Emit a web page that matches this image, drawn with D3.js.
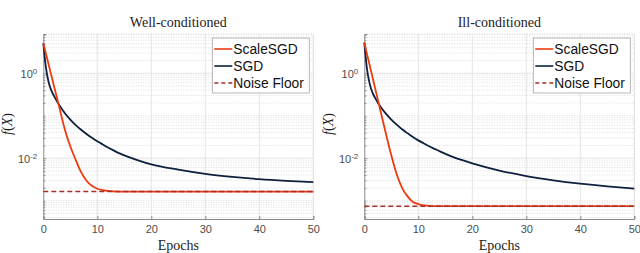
<!DOCTYPE html>
<html>
<head>
<meta charset="utf-8">
<script src="https://cdn.jsdelivr.net/npm/d3@7"></script>
<style>
    body { margin: 0; background: #fff; }
    .tick-label { font-family: "Liberation Sans", Arial, sans-serif; font-size: 11px; fill: #4d4d4d; }
    .title, .xlabel, .ylabel { font-family: "Liberation Serif", "Times New Roman", serif; fill: #222; }
    .legend text { font-family: "Liberation Sans", Arial, sans-serif; font-size: 13.8px; fill: #111; }
</style>
</head>
<body>
<div id="vis"></div>
<script>
    // data
    var epochs = [0, 0.5, 1, 1.5, 2, 3, 4, 5, 6, 7, 8, 9, 10, 11, 12, 13, 14, 16, 18, 20, 25, 30, 35, 40, 45, 50];

    var wellScaleSGD = [5.08, 2.83, 1.58, 0.879, 0.49, 0.151, 0.0468, 0.0191, 0.00912, 0.00468, 0.00295, 0.00224,
        0.00191, 0.00176, 0.0017, 0.00166, 0.00164, 0.001637, 0.001637, 0.001637, 0.001637, 0.001637, 0.001637,
        0.001637, 0.001637, 0.001637];
    var wellSGD = [5.08, 1.318, 0.603, 0.389, 0.288, 0.174, 0.1148, 0.0813, 0.0603, 0.0468, 0.0372, 0.0302,
        0.0251, 0.0211, 0.0178, 0.0153, 0.0132, 0.01047, 0.00851, 0.00716, 0.00537, 0.00427, 0.00363,
        0.0032, 0.00292, 0.00272];
    var wellFloor = 0.001637;

    var illScaleSGD = [5.25, 2.82, 1.53, 0.832, 0.447, 0.129, 0.038, 0.01175, 0.00417, 0.002, 0.00126, 0.000933,
        0.000832, 0.000776, 0.00075, 0.000741, 0.000741, 0.000741, 0.000741, 0.000741, 0.000741, 0.000741, 0.000741,
        0.000741, 0.000741, 0.000741];
    var illSGD = [5.25, 1.259, 0.562, 0.355, 0.263, 0.162, 0.1122, 0.0813, 0.0617, 0.0479, 0.0389, 0.0316,
        0.0263, 0.0224, 0.0191, 0.0166, 0.01445, 0.01122, 0.00912, 0.00759, 0.00513, 0.0038, 0.00302,
        0.00251, 0.00216, 0.00191];
    var illFloor = 0.000741;

    var titles = ["Well-conditioned", "Ill-conditioned"];
    var seriesNames = ["ScaleSGD", "SGD", "Noise Floor"];
    var xTicks = [0, 10, 20, 30, 40, 50];
    var yMajor = [1, 0.01];
    var yMajorExp = ["0", "-2"];
    var xDomain = [0, 50];
    var yDomain = [3.7e-4, 8.4];

    var width = 640,
        height = 253;

    var colors = {
        scale: "#ee3a10",
        sgd: "#0f1f3e",
        floor: "#a8302a"
    };

    var svg = d3.select("#vis").append("svg")
        .attr("width", width)
        .attr("height", height);

    var panels = [
        { left: 43.3, title: titles[0], scale: wellScaleSGD, sgd: wellSGD, floor: wellFloor },
        { left: 364.3, title: titles[1], scale: illScaleSGD, sgd: illSGD, floor: illFloor }
    ];

    // minor y grid values: 2..9 x 10^k and the unlabeled decades
    var yMinor = [];
    for (var k = -4; k <= 1; k++) {
        for (var m = 1; m <= 9; m++) {
            var v = m * Math.pow(10, k);
            if (v >= yDomain[0] && v <= yDomain[1] && yMajor.indexOf(v) < 0) yMinor.push(v);
        }
    }

    panels.forEach(function(p) {
        var x = d3.scaleLinear().domain(xDomain).range([p.left, p.left + 270]);
        var y = d3.scaleLog().domain(yDomain).range([219, 34]);

        var g = svg.append("g");

        // grid
        g.selectAll(".ygrid-minor")
            .data(yMinor)
            .enter().append("line")
            .attr("x1", x(0)).attr("x2", x(50))
            .attr("y1", function(d) { return y(d); })
            .attr("y2", function(d) { return y(d); })
            .attr("stroke", "#d4d4d4")
            .attr("stroke-width", 0.8)
            .attr("stroke-dasharray", "1,1.5");

        g.selectAll(".xgrid")
            .data(xTicks.slice(1))
            .enter().append("line")
            .attr("x1", function(d) { return x(d); })
            .attr("x2", function(d) { return x(d); })
            .attr("y1", y(yDomain[0])).attr("y2", y(yDomain[1]))
            .attr("stroke", "#e4e4e4")
            .attr("stroke-width", 1);

        g.selectAll(".ygrid")
            .data(yMajor)
            .enter().append("line")
            .attr("x1", x(0)).attr("x2", x(50))
            .attr("y1", function(d) { return y(d); })
            .attr("y2", function(d) { return y(d); })
            .attr("stroke", "#e4e4e4")
            .attr("stroke-width", 1);

        // top / right edges as light dotted lines
        g.append("line")
            .attr("x1", x(0)).attr("x2", x(50))
            .attr("y1", y(yDomain[1])).attr("y2", y(yDomain[1]))
            .attr("stroke", "#d4d4d4").attr("stroke-dasharray", "1,1.5");
        g.append("line")
            .attr("x1", x(50)).attr("x2", x(50))
            .attr("y1", y(yDomain[0])).attr("y2", y(yDomain[1]))
            .attr("stroke", "#d4d4d4").attr("stroke-dasharray", "1,1.5");

        // axes
        var xAxis = g.append("g")
            .attr("transform", "translate(0," + y(yDomain[0]) + ")")
            .call(d3.axisBottom(x).tickValues(xTicks).tickSize(-3).tickPadding(6));
        xAxis.select(".domain").attr("stroke", "#8a8a8a");
        xAxis.selectAll(".tick line").attr("stroke", "#8a8a8a");
        xAxis.selectAll(".tick text").attr("class", "tick-label").attr("font-family", null).attr("font-size", null).attr("fill", null);

        var yAxisMinor = g.append("g")
            .attr("transform", "translate(" + x(0) + ",0)")
            .call(d3.axisLeft(y).tickValues(yMinor).tickSize(-2).tickFormat(""));
        yAxisMinor.select(".domain").remove();
        yAxisMinor.selectAll(".tick line").attr("stroke", "#8a8a8a");

        var yAxis = g.append("g")
            .attr("transform", "translate(" + x(0) + ",0)")
            .call(d3.axisLeft(y).tickValues(yMajor).tickSize(-3).tickFormat(""));
        yAxis.select(".domain").attr("stroke", "#8a8a8a");
        yAxis.selectAll(".tick line").attr("stroke", "#8a8a8a");

        yAxis.selectAll(".tick").each(function(d, i) {
            var t = d3.select(this).append("text")
                .attr("class", "tick-label")
                .attr("x", -6)
                .attr("dy", "0.35em")
                .attr("text-anchor", "end");
            t.append("tspan").text("10");
            t.append("tspan").attr("dy", "-0.45em").attr("font-size", "8px").text(yMajorExp[i]);
        });

        // series
        var line = d3.line()
            .x(function(d) { return x(d[0]); })
            .y(function(d) { return y(d[1]); })
            .curve(d3.curveMonotoneX);

        g.append("path")
            .datum(d3.zip(epochs, p.sgd))
            .attr("d", line)
            .attr("fill", "none")
            .attr("stroke", colors.sgd)
            .attr("stroke-width", 1.8);

        g.append("path")
            .datum(d3.zip(epochs, p.scale))
            .attr("d", line)
            .attr("fill", "none")
            .attr("stroke", colors.scale)
            .attr("stroke-width", 1.8);

        g.append("line")
            .attr("x1", x(xDomain[0])).attr("x2", x(xDomain[1]))
            .attr("y1", y(p.floor)).attr("y2", y(p.floor))
            .attr("stroke", colors.floor)
            .attr("stroke-width", 1.6)
            .attr("stroke-dasharray", "5,3");

        // labels
        g.append("text")
            .attr("class", "title")
            .attr("x", x(25))
            .attr("y", 27)
            .attr("text-anchor", "middle")
            .attr("font-size", "14px")
            .text(p.title);

        g.append("text")
            .attr("class", "xlabel")
            .attr("x", x(25))
            .attr("y", 250)
            .attr("text-anchor", "middle")
            .attr("font-size", "14px")
            .text("Epochs");

        var yl = g.append("text")
            .attr("class", "ylabel")
            .attr("transform", "translate(" + (p.left - 31) + ",124) rotate(-90)")
            .attr("text-anchor", "middle")
            .attr("font-size", "14px");
        yl.append("tspan").attr("font-style", "italic").text("f");
        yl.append("tspan").text("(");
        yl.append("tspan").attr("font-style", "italic").text("X");
        yl.append("tspan").text(")");

        // legend
        var legend = g.append("g")
            .attr("class", "legend")
            .attr("transform", "translate(" + (p.left + 169) + ",38)");

        legend.append("rect")
            .attr("width", 97)
            .attr("height", 55)
            .attr("fill", "#fff")
            .attr("stroke", "#a6a6a6")
            .attr("stroke-width", 0.8);

        var legendColors = [colors.scale, colors.sgd, colors.floor];
        var rows = legend.selectAll(".row")
            .data(seriesNames)
            .enter().append("g")
            .attr("transform", function(d, i) { return "translate(0," + (11 + i * 17) + ")"; });

        rows.append("line")
            .attr("x1", 2).attr("x2", 20)
            .attr("stroke", function(d, i) { return legendColors[i]; })
            .attr("stroke-width", 1.6)
            .attr("stroke-dasharray", function(d, i) { return i === 2 ? "4,3" : null; });

        rows.append("text")
            .attr("x", 21)
            .attr("dy", "0.36em")
            .text(function(d) { return d; });
    });
</script>
</body>
</html>
